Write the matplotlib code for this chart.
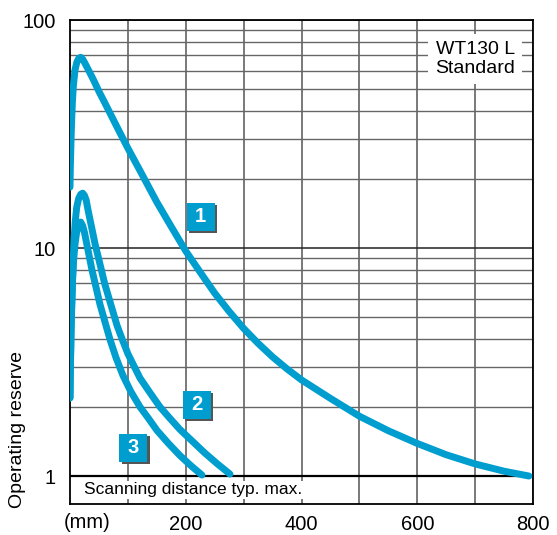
import matplotlib
matplotlib.use("Agg")
import matplotlib.pyplot as plt
from matplotlib import transforms

# -------------------------
# Data
# -------------------------
x1 = [0, 0.5, 1.2, 2, 3, 4.3, 6, 8.6, 12, 15, 18.5, 22, 27, 33, 40, 50, 60, 69, 85, 100,
      125, 150, 175, 200, 225, 250, 275, 300, 325, 350, 375, 400, 450, 500,
      550, 600, 650, 700, 750, 793]
y1 = [18.5, 22, 26, 31, 37, 44.6, 52, 60.3, 65.5, 67.8, 68.6, 67.3, 63.8, 59.6, 55.0, 48.6,
      43.4, 39.1, 32.5, 27.4, 20.9, 15.9, 12.4, 9.7, 7.83, 6.34, 5.27, 4.44, 3.82, 3.33,
      2.95, 2.64, 2.19, 1.83, 1.58, 1.39, 1.24, 1.13, 1.05, 1.0]

x2 = [0, 0.4, 0.9, 1.8, 2.9, 4.5, 6.9, 9, 11.6, 15, 18.5, 21.9, 25, 28, 31.1, 43.2, 60.4,
      70.8, 81.2, 90.7, 100.2, 110.5, 120.9, 138.2, 155.4, 172.7, 190, 211.6, 233.2, 254.8, 276.4]
y2 = [2.2, 2.7, 3.23, 4.3, 5.51, 7.5, 10.8, 13, 15.1, 16.5, 17.2, 17.4, 17.0, 16.2, 14.7,
      10.45, 6.91, 5.62, 4.58, 3.95, 3.43, 3.04, 2.69, 2.32, 2.01, 1.79, 1.60, 1.42, 1.26,
      1.13, 1.02]

x3 = [0, 0.4, 0.9, 1.8, 2.9, 4.3, 6.0, 8.5, 11.2, 14.5, 18.5, 22, 25, 27.6, 38, 51.8,
      69.1, 79.4, 91.5, 105.4, 120.9, 135.6, 150.3, 170.1, 190, 209, 228]
y3 = [2.2, 2.7, 3.23, 4.3, 5.51, 7.1, 8.68, 10.3, 11.6, 12.6, 13.0, 12.5, 11.7, 10.84,
      8.01, 5.66, 3.97, 3.31, 2.76, 2.34, 2.01, 1.79, 1.585, 1.39, 1.23, 1.11, 1.01]

labels = ["1", "2", "3"]
label_x = [226, 219, 109]
label_y = [13.7, 2.05, 1.33]

xticks = [200, 400, 600, 800]
yticks = [1, 10, 100]

blue = "#009ECE"
plt.rcParams["font.family"] = ["Liberation Sans", "DejaVu Sans"]

fig = plt.figure(figsize=(5.57, 5.35), dpi=100)
ax = fig.add_axes([70 / 557, 31 / 535, 463 / 557, 484 / 535])

ax.set_yscale("log")
ax.set_xlim(0, 800)
ax.set_ylim(0.754, 100)

# grid
ax.set_xticks(xticks)
ax.set_xticks([100, 300, 500, 700], minor=True)
ax.set_yticks(yticks)
ax.set_yticks([v * d for d in (1, 10) for v in range(2, 10)], minor=True)
ax.set_yticklabels(["1", "10", "100"])
ax.set_xticklabels([str(v) for v in xticks])
ax.tick_params(which="both", length=0)
ax.tick_params(axis="y", labelsize=14.5, pad=10)
ax.tick_params(axis="x", labelsize=14.5, pad=8)
ax.yaxis.set_minor_formatter(plt.NullFormatter())
ax.xaxis.grid(True, which="both", color="#555555", lw=1.1)
ax.yaxis.grid(True, which="minor", color="#666666", lw=1.0)
ax.yaxis.grid(True, which="major", color="#222222", lw=1.1)
ax.set_axisbelow(True)
for s in ax.spines.values():
    s.set_color("black")
    s.set_linewidth(1.3)
ax.axhline(1, color="black", lw=1.6, zorder=1.5)

# curves
for xs, ys in [(x1, y1), (x2, y2), (x3, y3)]:
    ax.plot(xs, ys, color=blue, lw=5, solid_capstyle="round", solid_joinstyle="round", zorder=3)

# numbered boxes
shadow = transforms.offset_copy(ax.transData, fig=fig, x=2.5, y=-2.5, units="dots")
for lab, lx, ly in zip(labels, label_x, label_y):
    ax.plot([lx], [ly], marker="s", ms=20.5, color="#555555", mew=0, transform=shadow, zorder=4)
    ax.plot([lx], [ly], marker="s", ms=20.5, color=blue, mew=0, zorder=5)
    ax.text(lx, ly, lab, color="white", fontsize=14.5, fontweight="bold",
            ha="center", va="center", zorder=6)

# texts
ax.text(0.875, 0.92, "WT130 L\nStandard", transform=ax.transAxes, fontsize=14,
        ha="center", va="center", linespacing=1.15, zorder=4,
        bbox=dict(boxstyle="square,pad=0.35", fc="white", ec="none"))
ax.text(25, 0.87, "Scanning distance typ. max.", fontsize=12.5, ha="left", va="center",
        zorder=4, bbox=dict(boxstyle="square,pad=0.1", fc="white", ec="none"))
fig.text(87 / 557, 1 - 523 / 535, "(mm)", fontsize=14.5, ha="center", va="center")
fig.text(18 / 557, 1 - 430 / 535, "Operating reserve", fontsize=14, rotation=90,
         ha="center", va="center")

fig.savefig("out.png", dpi=100)
